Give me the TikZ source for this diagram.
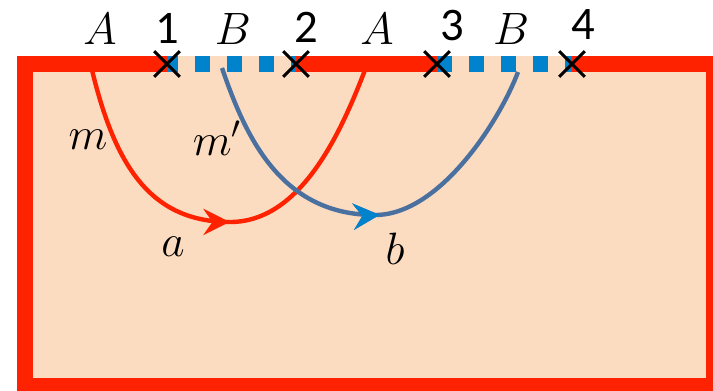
\documentclass[tikz,border=0pt]{standalone}
\usepackage{fix-cm}
\usepackage{fontspec}
\newfontfamily\digitfont{Carlito}
\usetikzlibrary{shapes.misc,arrows.meta,decorations.markings}
\definecolor{peach}{RGB}{252,220,192}
\definecolor{wallred}{RGB}{255,34,0}
\definecolor{cutblue}{RGB}{0,130,204}
\definecolor{pathblue}{RGB}{74,112,160}
\tikzset{
  wall/.style={line width=12pt,draw=wallred},
  cut/.style={line width=12pt,draw=cutblue,dash pattern=on 11.25pt off 12.75pt},
  crossmark/.style={cross out,draw=black,line width=2.2pt,minimum size=17pt,inner sep=0pt},
  lbl/.style={font=\fontsize{34}{40}\selectfont},
  num/.style={font=\digitfont\fontsize{35}{40}\selectfont},
  curvearrow/.style 2 args={draw=#1,line width=3.3pt,postaction={decorate},
    decoration={markings,mark=at position #2 with
      {\arrow[#1]{Stealth[length=20pt,width=20pt,inset=7pt,line width=0pt]}}}}
}
\begin{document}
\begin{tikzpicture}[x=0.75pt,y=-0.75pt]
  \useasboundingbox (0,0) rectangle (713,390);
  \fill[peach] (17,56) rectangle (722,394);
  \coordinate (p1) at (167,64);
  \coordinate (p2) at (296,64);
  \coordinate (p3) at (437,64);
  \coordinate (p4) at (572,64);
  \coordinate (redL) at (92,70);
  \coordinate (redbot) at (230,222);
  \coordinate (redR) at (365,70);
  \coordinate (blueL) at (222,68);
  \coordinate (bluebot) at (375,215);
  \coordinate (blueR) at (518,72);
  \draw[curvearrow={wallred}{0.51}] (redL) .. controls (115,165) and (150,222) .. (redbot)
    .. controls (300,222) and (340,135) .. (redR);
  \draw[curvearrow={pathblue}{0.53},
    decoration={markings,mark=at position 0.53 with
      {\arrow[cutblue]{Stealth[length=20pt,width=20pt,inset=7pt,line width=0pt]}}}]
    (blueL) .. controls (245,135) and (280,215) .. (bluebot)
    .. controls (440,215) and (500,120) .. (blueR);
  \draw[wall] (p1) -- (25,64) -- (25,386) -- (714,386) -- (714,64) -- (p4);
  \draw[wall] (p2) -- (p3);
  \draw[cut,dash phase=3pt] (p1) -- (p2);
  \draw[cut] (p3) -- (p4);
  \node[crossmark] (c1) at (p1) {};
  \node[crossmark] (c2) at (p2) {};
  \node[crossmark] (c3) at (p3) {};
  \node[crossmark] (c4) at (p4) {};
  \node[lbl] (A1) at (100,29) {$A$};
  \node[num] (n1) at (167,28) {1};
  \node[lbl] (B1) at (233,29) {$B$};
  \node[num] (n2) at (306,27) {2};
  \node[lbl] (A2) at (377,29) {$A$};
  \node[num] (n3) at (452,26) {3};
  \node[lbl] (B2) at (511,29) {$B$};
  \node[num] (n4) at (583,25) {4};
  \node[lbl] (m) at (88,140) {$m$};
  \node[lbl] (m2) at (217,138) {$m'$};
  \node[lbl] (a) at (173,247) {$a$};
  \node[lbl] (b) at (395,249) {$b$};
\end{tikzpicture}
\end{document}
